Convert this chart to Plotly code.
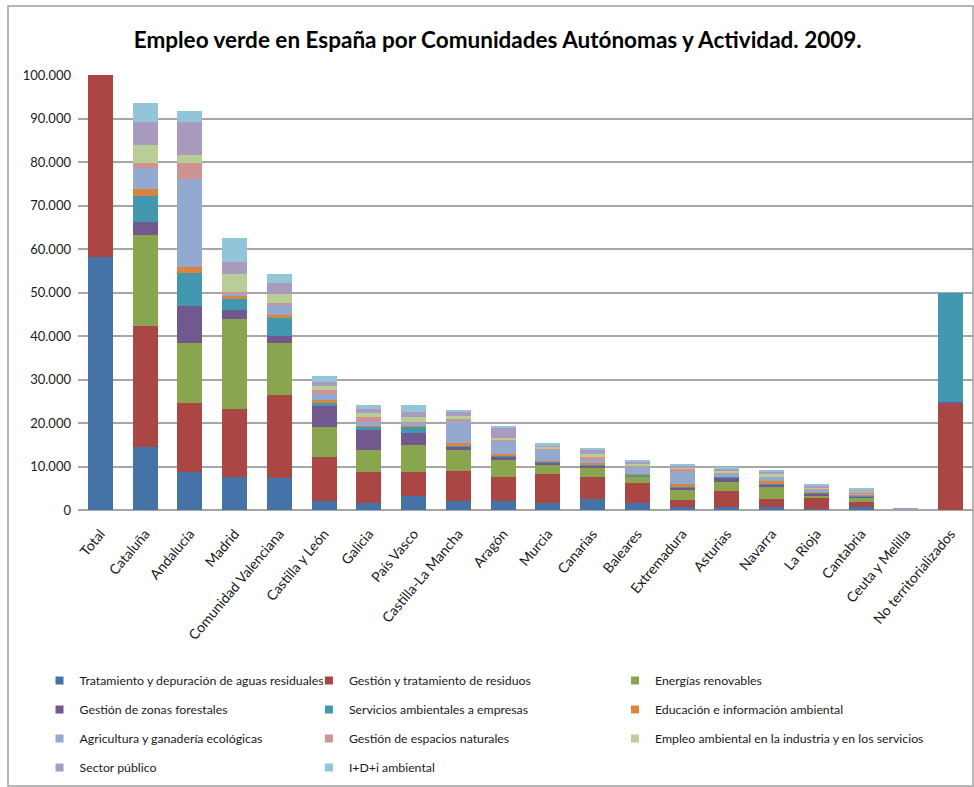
import plotly.graph_objects as go

# Categories (regions) on the x axis
regiones = [
    "Total", "Cataluña", "Andalucía", "Madrid", "Comunidad Valenciana",
    "Castilla y León", "Galicia", "País Vasco", "Castilla-La Mancha", "Aragón",
    "Murcia", "Canarias", "Baleares", "Extremadura", "Asturias", "Navarra",
    "La Rioja", "Cantabria", "Ceuta y Melilla", "No territorializados",
]

# Green jobs per activity, one list per activity (same order as regiones)
aguas_residuales = [58200, 14500, 8850, 7600, 7400, 2000, 1700, 3200, 2000, 2000,
                    1700, 2500, 1700, 600, 600, 600, 300, 600, 30, 0]
residuos = [140000, 27700, 15850, 15700, 19000, 10100, 7000, 5500, 7000, 5700,
            6500, 5100, 4500, 1700, 3800, 2000, 2500, 1300, 60, 24400]
renovables = [109000, 21100, 13600, 20700, 11900, 7000, 5100, 6200, 4800, 3800,
              2100, 2200, 1400, 2200, 2100, 2700, 600, 900, 10, 0]
forestales = [33000, 2900, 8500, 1900, 1700, 4700, 4700, 2800, 800, 600,
              600, 400, 200, 700, 900, 600, 300, 300, 10, 500]
servicios_empresas = [44000, 5900, 7700, 2600, 4200, 1000, 600, 1400, 300, 500,
                      200, 300, 300, 100, 200, 300, 300, 300, 20, 25100]
educacion = [6000, 1700, 1400, 700, 600, 400, 300, 300, 400, 300,
             200, 200, 100, 600, 100, 400, 200, 200, 10, 0]
agricultura_eco = [69000, 4800, 20200, 600, 2400, 1400, 900, 600, 5200, 3000,
                   2600, 800, 1800, 2900, 700, 1000, 400, 400, 0, 0]
espacios_naturales = [28000, 1200, 3700, 300, 300, 1100, 1000, 300, 500, 300,
                      300, 600, 300, 700, 100, 200, 300, 200, 0, 0]
industria_servicios = [32000, 4200, 1900, 4100, 2100, 800, 900, 1000, 600, 400,
                       300, 700, 200, 300, 500, 400, 300, 300, 20, 0]
sector_publico = [24000, 5200, 7500, 2900, 2600, 1000, 1000, 1200, 1000, 2200,
                  300, 900, 700, 400, 500, 600, 400, 200, 280, 0]
idi_ambiental = [19000, 4400, 2500, 5400, 2000, 1300, 900, 1600, 300, 600,
                 700, 600, 400, 300, 500, 400, 400, 400, 0, 0]

# Activity names for the legend, bottom of the stack first
actividades = [
    "Tratamiento y depuración de aguas residuales",
    "Gestión y tratamiento de residuos",
    "Energías renovables",
    "Gestión de zonas forestales",
    "Servicios ambientales a empresas",
    "Educación e información ambiental",
    "Agricultura y ganadería ecológicas",
    "Gestión de espacios naturales",
    "Empleo ambiental en la industria y en los servicios",
    "Sector público",
    "I+D+i ambiental",
]
series = [aguas_residuales, residuos, renovables, forestales, servicios_empresas,
          educacion, agricultura_eco, espacios_naturales, industria_servicios,
          sector_publico, idi_ambiental]
colores = ["#4572A7", "#AA4643", "#89A54E", "#71588F", "#4198AF", "#DB843D",
           "#93A9CF", "#D19392", "#B9CD96", "#A99BBD", "#92C5D7"]

# y axis ticks
y_ticks = [0, 10000, 20000, 30000, 40000, 50000, 60000, 70000, 80000, 90000, 100000]

FONT = "Lato, 'Open Sans', sans-serif"
legend_names = ["legend", "legend2", "legend3"]

fig = go.Figure()
for i, (nombre, valores, color) in enumerate(zip(actividades, series, colores)):
    # stacked bars for this activity
    fig.add_trace(go.Bar(
        x=regiones, y=valores, name=nombre,
        marker=dict(color=color, line=dict(width=0)),
        showlegend=False, legendgroup=nombre,
        hovertemplate="%{x}<br>" + nombre + ": %{y:,.0f}<extra></extra>",
    ))
    # small square key for the legend
    fig.add_trace(go.Scatter(
        x=[None], y=[None], mode="markers", name=nombre,
        marker=dict(symbol="square", size=8, color=color),
        legend=legend_names[i % 3], legendgroup=nombre, showlegend=True,
    ))

legend_common = dict(
    orientation="v", yanchor="top", xanchor="left",
    font=dict(family=FONT, size=12.3, color="#1a1a1a"),
    bgcolor="rgba(0,0,0,0)", tracegroupgap=10, itemwidth=30,
    traceorder="grouped",
)

fig.update_layout(
    width=974, height=787,
    margin=dict(l=78, r=1, t=75, b=277),
    barmode="stack", bargap=0.44,
    separators=",.",
    paper_bgcolor="white", plot_bgcolor="white",
    font=dict(family=FONT, size=13, color="#1a1a1a"),
    title=dict(
        text="<b>Empleo verde en España por Comunidades Autónomas y Actividad. 2009.</b>",
        x=0.511, xanchor="center", xref="container",
        y=1 - 40 / 787, yanchor="middle", yref="container",
        font=dict(family=FONT, size=22.5, color="black"),
    ),
    xaxis=dict(
        tickangle=-50, tickfont=dict(size=14), showgrid=False,
        showline=False, ticks="", ticklabelstandoff=12,
    ),
    yaxis=dict(
        range=[0, 100000], tickvals=y_ticks, tickformat=",d",
        showgrid=True, gridcolor="#a6a6a6", gridwidth=1.5,
        zeroline=True, zerolinecolor="#a6a6a6", zerolinewidth=1.5,
        showline=False, ticks="", ticklabelstandoff=6,
        tickfont=dict(size=13),
    ),
    legend=dict(x=-0.043, y=-0.3586, **legend_common),
    legend2=dict(x=0.258, y=-0.3586, **legend_common),
    legend3=dict(x=0.600, y=-0.3586, **legend_common),
    shapes=[dict(
        type="rect", xref="paper", yref="paper",
        x0=-70 / 895, x1=1.0, y0=(510 - 786) / 435, y1=(510 - 6) / 435,
        line=dict(color="#a0a0a0", width=1.5), fillcolor="rgba(0,0,0,0)",
    )],
)

fig.write_html("out.html")
